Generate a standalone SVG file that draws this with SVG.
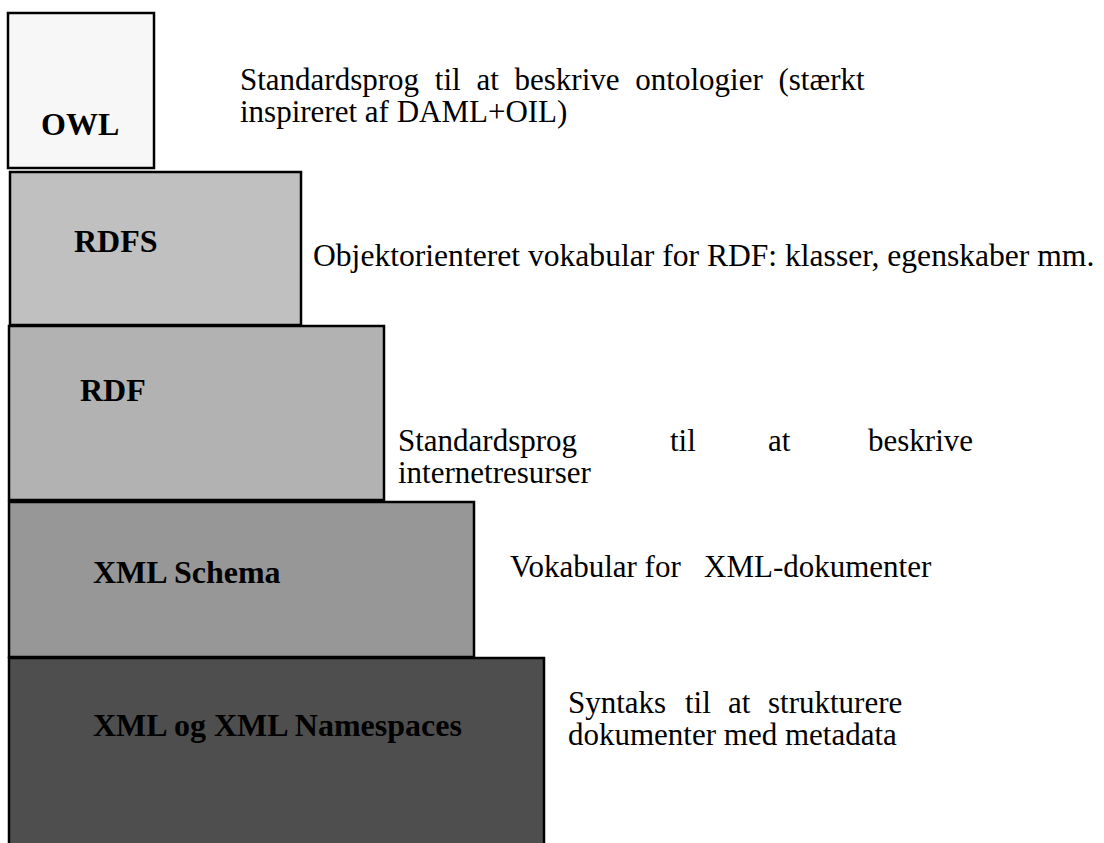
<svg xmlns="http://www.w3.org/2000/svg" width="1104" height="843" viewBox="0 0 1104 843">
  <style>
    .layer { stroke: #000; stroke-width: 2.5; }
    text { font-family: 'Liberation Serif', 'Times New Roman', Times, serif; fill: #000; }
    .name { font-size: 32px; font-weight: bold; }
    .desc { font-size: 31px; }
    .desc.wide { font-size: 31.6px; }
  </style>
  <rect width="1104" height="843" fill="#fff"/>

  <!-- stack of layers, bottom to top -->
  <g id="xml">
    <rect class="layer" x="9" y="658" width="535" height="200" fill="#4e4e4e"/>
    <text class="name" x="93" y="736">XML og XML Namespaces</text>
  </g>
  <g id="xml-schema">
    <rect class="layer" x="9" y="502" width="465" height="155" fill="#979797"/>
    <text class="name" x="93" y="583">XML Schema</text>
  </g>
  <g id="rdf">
    <rect class="layer" x="9" y="326" width="375" height="174" fill="#b2b2b2"/>
    <text class="name" x="80" y="401">RDF</text>
  </g>
  <g id="rdfs">
    <rect class="layer" x="10" y="172" width="291" height="153" fill="#c0c0c0"/>
    <text class="name" x="74" y="252">RDFS</text>
  </g>
  <g id="owl">
    <rect class="layer" x="8" y="13" width="146" height="155" fill="#f7f7f7"/>
    <text class="name" x="41" y="135">OWL</text>
  </g>

  <!-- descriptions -->
  <g id="descriptions">
    <text class="desc" x="240" y="90" word-spacing="8">Standardsprog til at beskrive ontologier (stærkt</text>
    <text class="desc" x="240" y="122">inspireret af DAML+OIL)</text>
    <text class="desc wide" x="313" y="266">Objektorienteret vokabular for RDF: klasser, egenskaber mm.</text>
    <text class="desc" y="451"><tspan x="398">Standardsprog</tspan><tspan x="670">til</tspan><tspan x="768">at</tspan><tspan x="868">beskrive</tspan></text>
    <text class="desc" x="398" y="483">internetresurser</text>
    <text class="desc" x="510" y="577" xml:space="preserve">Vokabular for   XML-dokumenter</text>
    <text class="desc" y="713"><tspan x="568">Syntaks</tspan><tspan x="685">til</tspan><tspan x="728">at</tspan><tspan x="768">strukturere</tspan></text>
    <text class="desc" x="568" y="745">dokumenter med metadata</text>
  </g>
</svg>
